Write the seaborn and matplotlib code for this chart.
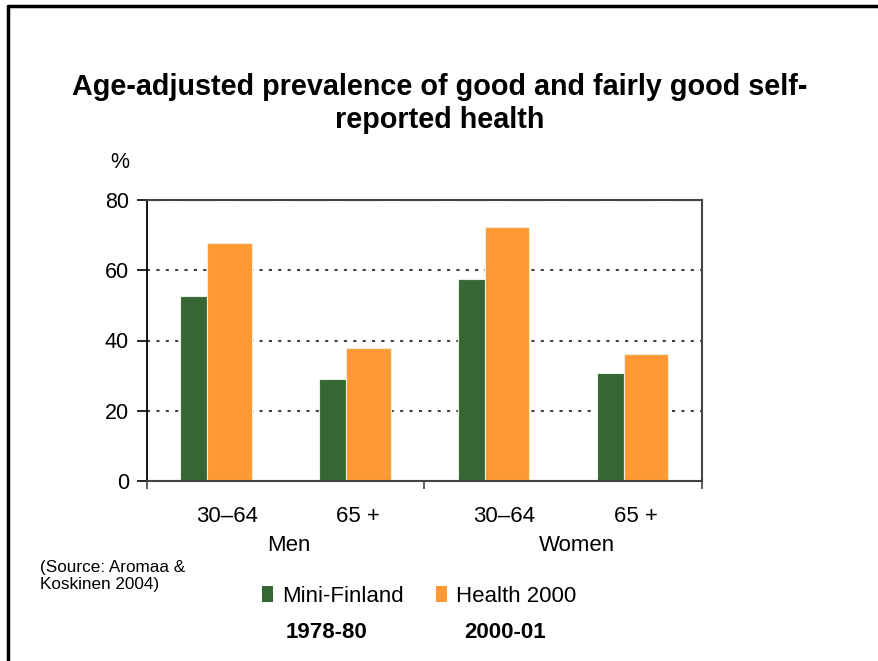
import pandas as pd
import matplotlib.pyplot as plt
import matplotlib.transforms as mtransforms
import seaborn as sns
from matplotlib.patches import Patch
from matplotlib.lines import Line2D

GROUPS = ["Men", "Men", "Women", "Women"]
AGES = ["30–64", "65 +", "30–64", "65 +"]
MINI_FINLAND = [52.8, 29.1, 57.5, 30.8]
HEALTH_2000 = [67.9, 37.8, 72.4, 36.1]
SURVEYS = ["Mini-Finland", "Health 2000"]
YEARS = ["1978-80", "2000-01"]
COLORS = ["#356734", "#FF9933"]

rows = []
for i, (g, a) in enumerate(zip(GROUPS, AGES)):
    key = f"{g} {a}"
    rows.append({"cat": key, "survey": SURVEYS[0], "value": MINI_FINLAND[i]})
    rows.append({"cat": key, "survey": SURVEYS[1], "value": HEALTH_2000[i]})
df = pd.DataFrame(rows)
order = [f"{g} {a}" for g, a in zip(GROUPS, AGES)]

sns.set_style("white")
plt.rcParams["font.family"] = ["Liberation Sans", "DejaVu Sans"]
plt.rcParams["text.color"] = "black"
plt.rcParams["xtick.color"] = "black"
plt.rcParams["ytick.color"] = "black"

fig = plt.figure(figsize=(8.79, 6.61), dpi=100)
ax = fig.add_axes([147 / 879, 1 - 481 / 661, 555 / 879, 281 / 661])

sns.barplot(data=df, x="cat", y="value", hue="survey", order=order,
            hue_order=SURVEYS, palette=COLORS, width=0.52, legend=False,
            edgecolor="#e8eee0", linewidth=0.8, saturation=1, ax=ax)

# green bars narrower than orange ones, as in the original
n = len(order)
for p in ax.patches[:n]:
    p.set_width(0.195)
for p in ax.patches[n:]:
    p.set_x(p.get_x() - 0.065)
    p.set_width(0.32)

ax.set_xlim(-0.5, 3.5)
ax.set_ylim(0, 80)
ax.set_yticks([0, 20, 40, 60, 80])
ax.tick_params(axis="y", length=7, width=1.2, color="black", labelsize=15.5,
               pad=6, left=True)
ax.set_xticks(range(n))
ax.set_xticklabels(AGES)
ax.tick_params(axis="x", length=0, labelsize=16, pad=18)
ax.set_xticks([-0.5, 1.5, 3.5], minor=True)
ax.tick_params(axis="x", which="minor", length=6, width=1.2, color="#444",
               bottom=True)
for lbl, dx in zip(ax.get_xticklabels(), [11, 3, 10, 3]):
    shift = mtransforms.ScaledTranslation(dx / 100, 0, fig.dpi_scale_trans)
    lbl.set_transform(lbl.get_transform() + shift)
ax.set_xlabel("")
ax.set_ylabel("")

ax.set_axisbelow(True)
ax.yaxis.grid(True, linestyle=(0, (1.5, 3)), linewidth=1.5, color="#444")
for side in ["top", "right", "bottom"]:
    ax.spines[side].set_color("#444")
    ax.spines[side].set_linewidth(1.5)
ax.spines["left"].set_color("black")
ax.spines["left"].set_linewidth(1.3)

for label, xc in [("Men", 0.52), ("Women", 2.6)]:
    ax.text(xc, -0.228, label, transform=ax.get_xaxis_transform(),
            ha="center", va="center", fontsize=16)

fig.text(120 / 879, 1 - 163 / 661, "%", ha="center", va="center", fontsize=15.5)

fig.text(440 / 879, 1 - 73 / 661,
         "Age-adjusted prevalence of good and fairly good self-\nreported health",
         ha="center", va="top", fontsize=20.7, fontweight="bold", linespacing=1.25)

fig.text(40 / 879, 1 - 576 / 661, "(Source: Aromaa &\nKoskinen 2004)",
         ha="left", va="center", fontsize=12.3, linespacing=1.1)

handles = [Patch(facecolor=c, edgecolor="none") for c in COLORS]
fig.legend(handles, SURVEYS, loc="center left",
           bbox_to_anchor=(262 / 879, 1 - 596 / 661), ncol=2, frameon=False,
           fontsize=16, handlelength=0.5, handleheight=0.7,
           handletextpad=0.4, columnspacing=1.45, borderpad=0, borderaxespad=0)
for yr, xc in zip(YEARS, [327, 505]):
    fig.text(xc / 879, 1 - 632 / 661, yr, ha="center", va="center",
             fontsize=16, fontweight="bold")

# slide frame (left and top edges)
fig.add_artist(Line2D([8 / 879, 8 / 879], [0, 1 - 6 / 661], color="black",
                      linewidth=2.5, transform=fig.transFigure))
fig.add_artist(Line2D([8 / 879, 1], [1 - 6 / 661, 1 - 6 / 661], color="black",
                      linewidth=2.5, transform=fig.transFigure))

fig.savefig("out.png", dpi=100)
